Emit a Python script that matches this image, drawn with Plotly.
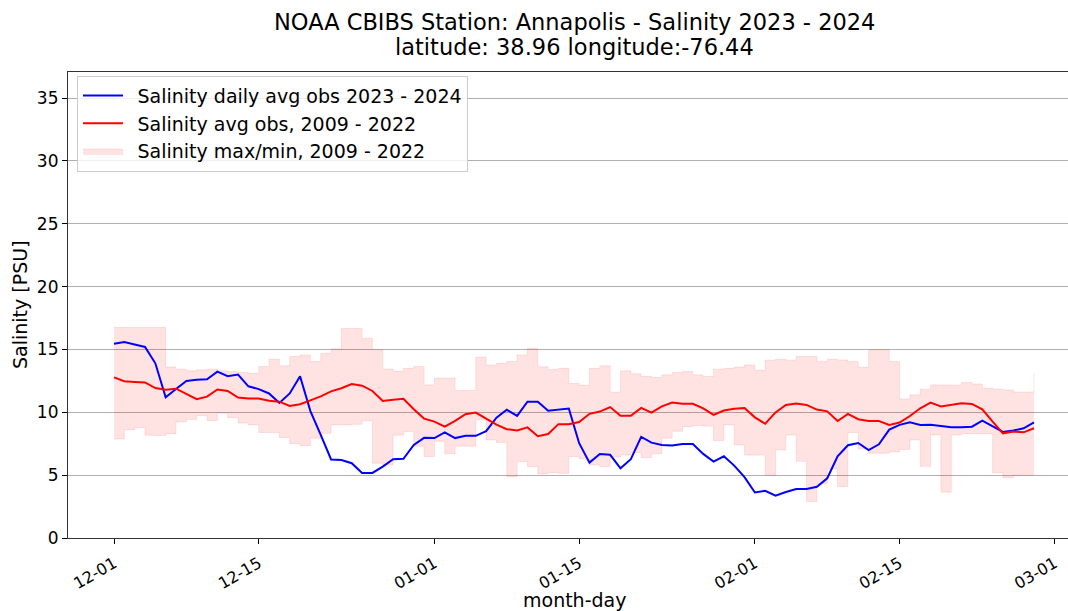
import pandas as pd
import plotly.graph_objects as go

# Daily dates, 2023-12-01 .. 2024-02-28
dates = pd.date_range("2023-12-01", periods=90, freq="D")

# Salinity daily average observations, 2023 - 2024 (PSU)
obs_2023_2024 = [
    15.45, 15.6, 15.4, 15.2, 13.9, 11.2, 11.85, 12.5, 12.6, 12.63,
    13.24, 12.87, 13.0, 12.07, 11.85, 11.5, 10.75, 11.5, 12.87, 10.1,
    8.2, 6.25, 6.2, 5.95, 5.18, 5.18, 5.68, 6.27, 6.3, 7.4,
    7.97, 7.95, 8.4, 7.95, 8.13, 8.13, 8.5, 9.58, 10.2, 9.72,
    10.85, 10.85, 10.12, 10.22, 10.3, 7.54, 6.0, 6.69, 6.62, 5.55,
    6.27, 8.05, 7.59, 7.4, 7.36, 7.47, 7.47, 6.69, 6.08, 6.5,
    5.76, 4.84, 3.62, 3.75, 3.37, 3.66, 3.9, 3.9, 4.07, 4.75,
    6.5, 7.38, 7.56, 7.0, 7.46, 8.62, 9.0, 9.2, 9.0, 9.02,
    8.92, 8.81, 8.81, 8.86, 9.34, 8.86, 8.44, 8.55, 8.73, 9.2,
]

# Climatological average, 2009 - 2022 (PSU)
avg_2009_2022 = [
    12.78, 12.47, 12.42, 12.38, 11.93, 11.8, 11.88, 11.45, 11.04, 11.25,
    11.82, 11.7, 11.17, 11.1, 11.1, 10.92, 10.85, 10.5, 10.64, 10.95,
    11.27, 11.67, 11.92, 12.25, 12.12, 11.7, 10.9, 11.0, 11.08, 10.25,
    9.5, 9.26, 8.86, 9.32, 9.85, 9.98, 9.53, 9.02, 8.66, 8.56,
    8.8, 8.1, 8.27, 9.06, 9.05, 9.23, 9.88, 10.06, 10.42, 9.72,
    9.72, 10.35, 9.98, 10.48, 10.78, 10.68, 10.68, 10.32, 9.79, 10.14,
    10.28, 10.35, 9.6, 9.09, 9.99, 10.59, 10.71, 10.59, 10.22, 10.08,
    9.31, 9.87, 9.45, 9.31, 9.31, 9.0, 9.19, 9.71, 10.32, 10.77,
    10.46, 10.59, 10.72, 10.67, 10.24, 9.26, 8.33, 8.47, 8.41, 8.73,
]

# Climatological maximum, 2009 - 2022 (PSU)
max_2009_2022 = [
    16.75, 16.75, 16.75, 16.75, 16.75, 13.6, 13.43, 13.3, 13.38, 13.43,
    13.3, 13.24, 13.16, 13.1, 13.64, 14.22, 13.7, 14.44, 14.57, 14.04,
    14.7, 15.05, 16.67, 16.67, 15.9, 14.97, 13.45, 13.27, 13.5, 13.64,
    12.18, 12.73, 12.73, 11.74, 11.74, 14.4, 13.75, 13.9, 14.04, 14.57,
    15.1, 13.62, 13.4, 13.5, 12.3, 12.15, 13.5, 13.7, 11.6, 13.3,
    13.06, 12.85, 12.77, 12.98, 13.16, 13.24, 12.98, 12.85, 13.43, 13.5,
    13.6, 13.77, 13.35, 14.15, 14.22, 14.15, 14.44, 14.44, 14.04, 14.22,
    14.17, 14.04, 13.58, 14.97, 14.97, 14.04, 11.07, 11.39, 11.84, 12.18,
    12.18, 12.18, 12.37, 12.26, 11.92, 11.84, 11.78, 11.62, 11.62, 13.1,
]

# Climatological minimum, 2009 - 2022 (PSU)
min_2009_2022 = [
    7.88, 8.62, 8.8, 8.18, 8.15, 8.3, 9.23, 9.42, 9.75, 9.35,
    9.93, 9.58, 9.15, 9.0, 8.4, 8.4, 8.0, 7.5, 7.35, 7.94,
    8.33, 9.0, 9.0, 9.05, 9.33, 5.95, 5.8, 8.18, 8.47, 7.3,
    6.48, 7.7, 6.7, 7.3, 7.3, 9.4, 7.8, 7.6, 4.88, 6.08,
    5.68, 5.1, 5.2, 5.15, 6.48, 6.3, 5.81, 5.68, 6.45, 6.6,
    6.8, 6.4, 6.7, 7.94, 8.5, 8.86, 8.95, 8.9, 7.75, 9.0,
    7.4, 6.6, 6.6, 5.0, 7.0, 8.2, 6.1, 2.9, 4.3, 5.5,
    4.1, 8.4, 7.1, 6.75, 6.75, 6.85, 7.05, 7.8, 5.7, 8.2,
    3.65, 8.2, 8.3, 8.3, 8.3, 5.2, 4.8, 5.0, 5.0, 5.0,
]

tick_dates = ["2023-12-01", "2023-12-15", "2024-01-01", "2024-01-15",
              "2024-02-01", "2024-02-15", "2024-03-01"]
tick_labels = ["12-01", "12-15", "01-01", "01-15", "02-01", "02-15", "03-01"]

FONT = "DejaVu Sans"
band_fill = "rgba(255,0,0,0.11)"
band_edge = "rgba(255,0,0,0.10)"
PAD = "\u2002"  # small gap between legend swatch and label

fig = go.Figure()

# min/max envelope as a post-step band
fig.add_trace(go.Scatter(
    x=dates, y=min_2009_2022, mode="lines", line=dict(shape="hv", width=1, color=band_edge),
    showlegend=False, hoverinfo="skip",
))
fig.add_trace(go.Scatter(
    x=dates, y=max_2009_2022, mode="lines", line=dict(shape="hv", width=1, color=band_edge),
    fill="tonexty", fillcolor=band_fill,
    name=PAD + "Salinity max/min, 2009 - 2022", legendrank=3,
))
fig.add_trace(go.Scatter(
    x=dates, y=obs_2023_2024, mode="lines", line=dict(color="#0000ff", width=2),
    name=PAD + "Salinity daily avg obs 2023 - 2024", legendrank=1,
))
fig.add_trace(go.Scatter(
    x=dates, y=avg_2009_2022, mode="lines", line=dict(color="#ff0000", width=2),
    name=PAD + "Salinity avg obs, 2009 - 2022", legendrank=2,
))

fig.update_layout(
    width=1068, height=611,
    margin=dict(l=68, r=0, t=72, b=73),
    paper_bgcolor="white", plot_bgcolor="white",
    font=dict(family=FONT, size=16, color="black"),
    legend=dict(
        x=0.009, y=0.992, xanchor="left", yanchor="top",
        bgcolor="rgba(255,255,255,0.8)", bordercolor="#cccccc", borderwidth=1,
        font=dict(family=FONT, size=19), traceorder="normal",
        itemwidth=40,
    ),
    showlegend=True,
)

fig.update_xaxes(
    type="date",
    range=["2023-11-26 13:12", "2024-03-02 07:00"],
    tickvals=tick_dates, ticktext=tick_labels, tickangle=-30,
    ticks="outside", ticklen=5, tickcolor="black", tickwidth=1,
    ticklabelstandoff=4,
    showgrid=False, zeroline=False,
    showline=True, linecolor="#333333", linewidth=1.2, mirror=True,
    tickfont=dict(family=FONT, size=16),
)
fig.update_yaxes(
    range=[0, 37.08], tickvals=[0, 5, 10, 15, 20, 25, 30, 35],
    ticks="outside", ticklen=5, tickcolor="black", tickwidth=1,
    showgrid=True, gridcolor="#b0b0b0", gridwidth=1, zeroline=False,
    showline=True, linecolor="#333333", linewidth=1.2,
    tickfont=dict(family=FONT, size=17),
)

def py(px):
    # pixel row in the page -> paper y coordinate of the plot area (top 72, height 466)
    return 1 + (72 - px) / 466

# two-line title above the axes
fig.add_annotation(
    text="NOAA CBIBS Station: Annapolis - Salinity 2023 - 2024",
    xref="paper", yref="paper", x=0.506, y=py(22),
    xanchor="center", yanchor="middle", showarrow=False,
    font=dict(family=FONT, size=22.5),
)
fig.add_annotation(
    text="latitude: 38.96 longitude:-76.44",
    xref="paper", yref="paper", x=0.506, y=py(47),
    xanchor="center", yanchor="middle", showarrow=False,
    font=dict(family=FONT, size=22.5),
)
fig.add_annotation(
    text="month-day", xref="paper", yref="paper", x=0.506, y=py(600),
    xanchor="center", yanchor="middle", showarrow=False,
    font=dict(family=FONT, size=19),
)
fig.add_annotation(
    text="Salinity [PSU]", xref="paper", yref="paper", x=-0.048, y=0.5,
    xanchor="center", yanchor="middle", textangle=-90, showarrow=False,
    font=dict(family=FONT, size=19),
)

fig.write_html("out.html")
